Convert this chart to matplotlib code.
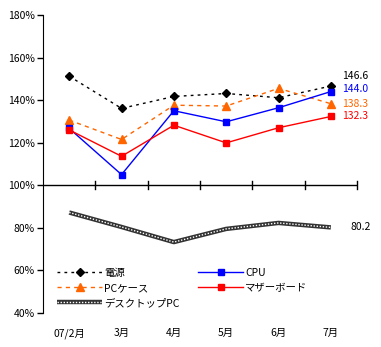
import matplotlib.pyplot as plt
import matplotlib.lines as mlines
import numpy as np

plt.rcParams['font.family'] = ['Noto Sans CJK JP', 'DejaVu Sans']

months = ['07/2月', '3月', '4月', '5月', '6月', '7月']
dengen = [151.2, 136.1, 141.7, 143.1, 141.1, 146.6]
pc_case = [130.6, 121.5, 137.6, 137.2, 145.5, 138.3]
cpu = [126.7, 105.0, 135.0, 129.8, 136.4, 144.0]
mother = [126.0, 113.6, 128.2, 119.9, 127.0, 132.3]
desktop = [87.2, 80.4, 73.3, 79.5, 82.3, 80.2]

x = np.arange(len(months)) + 0.5

fig = plt.figure(figsize=(3.81, 3.47), dpi=100)
ax = fig.add_axes([0.113, 0.098, 0.824, 0.859])

h1, = ax.plot(x, dengen, color='black', ls=(0, (2, 3)), lw=1, marker='D', ms=4.5,
              label='電源')
h3, = ax.plot(x, pc_case, color='#FF6600', ls=(0, (3, 3)), lw=1, marker='^', ms=6,
              label='PCケース')
h2, = ax.plot(x, cpu, color='#0000FF', lw=1, marker='s', ms=4.5, label='CPU')
h4, = ax.plot(x, mother, color='#FF0000', lw=1, marker='s', ms=4.5, label='マザーボード')

# デスクトップPC: 太い灰色線に白い点線を重ねる
ax.plot(x, desktop, color='#333333', lw=3.2, solid_capstyle='butt')
ax.plot(x, desktop, color='white', lw=1, ls=(0, (1, 1.2)))
h5a = mlines.Line2D([], [], color='#333333', lw=3.2, solid_capstyle='butt')
h5b = mlines.Line2D([], [], color='white', lw=1, ls=(0, (1, 1.2)))

# 100% の線と目盛り
ax.axhline(100, color='black', lw=1)
for t in range(1, 7):
    ax.plot([t, t], [98.2, 101.8], color='black', lw=1, clip_on=False)

ax.set_xlim(0, 6)
ax.set_ylim(40, 180)
ax.set_yticks(np.arange(40, 181, 20))
ax.set_yticklabels([f'{v}%' for v in range(40, 181, 20)], fontsize=7.5)
ax.tick_params(axis='y', length=4, width=1, pad=2)
ax.set_xticks(x)
ax.set_xticklabels(months, fontsize=7.5)
ax.tick_params(axis='x', length=0, pad=11)
for s in ['top', 'right', 'bottom']:
    ax.spines[s].set_visible(False)

# 右端の値ラベル
ax.text(5.72, 151.3, f'{dengen[-1]:.1f}', color='black', fontsize=7.5, va='center')
ax.text(5.72, 145.2, f'{cpu[-1]:.1f}', color='#0000FF', fontsize=7.5, va='center')
ax.text(5.72, 138.3, f'{pc_case[-1]:.1f}', color='#FF6600', fontsize=7.5, va='center')
ax.text(5.72, 132.3, f'{mother[-1]:.1f}', color='#FF0000', fontsize=7.5, va='center')
ax.text(5.88, desktop[-1], f'{desktop[-1]:.1f}', color='black', fontsize=7.5, va='center')

ax.legend(handles=[h1, h3, (h5a, h5b), h2, h4],
          labels=['電源', 'PCケース', 'デスクトップPC', 'CPU', 'マザーボード'],
          ncol=2, frameon=False, fontsize=7.5,
          loc='upper left', bbox_to_anchor=(0.045, 0.152), numpoints=1,
          handlelength=4.3, handletextpad=0.2, columnspacing=1.8,
          labelspacing=0.5, borderaxespad=0, borderpad=0)

fig.savefig('out.png', dpi=100)
